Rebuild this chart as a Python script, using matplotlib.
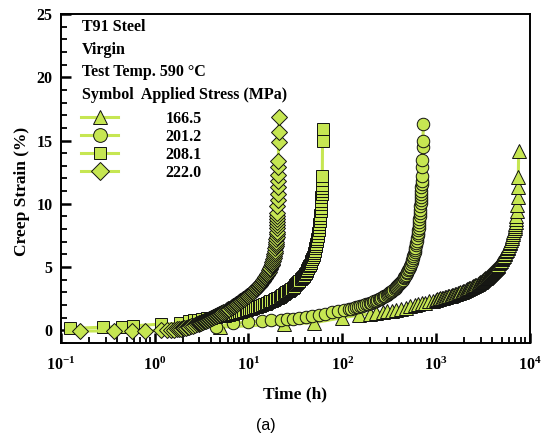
import matplotlib
matplotlib.use("Agg")
import matplotlib.pyplot as plt
from matplotlib.ticker import MultipleLocator, LogLocator, NullFormatter

plt.rcParams['font.family'] = ['Liberation Serif', 'DejaVu Serif']
plt.rcParams['font.weight'] = 'bold'
plt.rcParams['mathtext.fontset'] = 'custom'
plt.rcParams['mathtext.rm'] = 'Liberation Serif:bold'
plt.rcParams['mathtext.it'] = 'Liberation Serif:bold'

# ---- data: (time h, creep strain %) ----
creep_166 = [
    (5.0, 0.25), (24, 0.5), (50, 0.6), (100, 1.0), (150, 1.2), (200, 1.3),
    (230, 1.4), (270, 1.45), (300, 1.5), (340, 1.55), (370, 1.6), (420, 1.7),
    (480, 1.8), (530, 1.9), (590, 2.0), (650, 2.08), (710, 2.15), (770, 2.2),
    (840, 2.28), (920, 2.35), (1000, 2.42), (1035, 2.45), (1070, 2.48),
    (1110, 2.52), (1150, 2.55), (1195, 2.58), (1240, 2.62), (1285, 2.65),
    (1330, 2.68), (1380, 2.72), (1430, 2.75), (1480, 2.78), (1530, 2.82),
    (1585, 2.86), (1640, 2.9), (1700, 2.94), (1760, 2.98), (1820, 3.02),
    (1880, 3.06), (1940, 3.1), (2000, 3.14), (2065, 3.18), (2130, 3.23),
    (2195, 3.27), (2260, 3.32), (2330, 3.37), (2400, 3.42), (2475, 3.47),
    (2550, 3.52), (2625, 3.57), (2700, 3.62), (2780, 3.67), (2860, 3.73),
    (2940, 3.79), (3020, 3.85), (3100, 3.91), (3180, 3.97), (3265, 4.03),
    (3350, 4.1), (3435, 4.16), (3520, 4.23), (3610, 4.3), (3700, 4.37),
    (3790, 4.44), (3880, 4.52), (3970, 4.6), (4060, 4.68), (4155, 4.76),
    (4250, 4.85), (4345, 4.93), (4440, 5.02), (4535, 5.11), (4630, 5.2),
    (4725, 5.3), (4820, 5.4), (4915, 5.5), (5010, 5.6), (5105, 5.7),
    (5200, 5.8), (5300, 5.9), (5400, 6.0), (5500, 6.12), (5600, 6.25),
    (5700, 6.37), (5800, 6.5), (5900, 6.62), (6000, 6.75), (6100, 6.87),
    (6200, 7.0), (6300, 7.15), (6400, 7.3), (6500, 7.45), (6600, 7.6),
    (6700, 7.75), (6800, 7.9), (6880, 8.07), (6950, 8.25), (7020, 8.42),
    (7080, 8.6), (7140, 8.8), (7200, 9.0), (7300, 9.4), (7380, 9.9),
    (7450, 10.5), (7500, 11.3), (7550, 12.1), (7620, 14.2),
]

creep_201 = [
    (4.5, 0.3), (6.8, 0.55), (9.8, 0.65), (13.8, 0.75), (17.5, 0.8),
    (22, 0.85), (26, 0.88), (29.5, 0.92), (35, 1.0), (41, 1.08), (48, 1.16),
    (57, 1.25), (66, 1.33), (78, 1.42), (90, 1.5), (104, 1.58), (118, 1.66),
    (125, 1.71), (132, 1.76), (140, 1.81), (148, 1.86), (156, 1.91),
    (164, 1.96), (172, 2.0), (180, 2.05), (188, 2.1), (196, 2.15),
    (204, 2.2), (212, 2.25), (220, 2.3), (228, 2.35), (236, 2.4),
    (245, 2.45), (253, 2.5), (262, 2.56), (271, 2.62), (280, 2.68),
    (289, 2.74), (298, 2.8), (307, 2.86), (316, 2.93), (325, 3.0),
    (334, 3.06), (343, 3.13), (352, 3.2), (361, 3.27), (370, 3.35),
    (379, 3.42), (388, 3.5), (397, 3.58), (406, 3.66), (415, 3.75),
    (424, 3.83), (433, 3.92), (442, 4.0), (451, 4.1), (460, 4.2),
    (469, 4.3), (478, 4.4), (487, 4.51), (496, 4.62), (505, 4.73),
    (514, 4.85), (523, 4.97), (532, 5.1), (541, 5.24), (550, 5.38),
    (558, 5.53), (566, 5.68), (574, 5.84), (582, 6.0), (590, 6.17),
    (597, 6.35), (604, 6.53), (611, 6.72), (618, 6.9), (624, 7.1),
    (630, 7.3), (636, 7.5), (642, 7.7), (647, 7.9), (652, 8.12),
    (657, 8.35), (662, 8.57), (666, 8.8), (670, 9.05), (674, 9.3),
    (678, 9.55), (681, 9.8), (685, 10.05), (688, 10.3), (691, 10.55),
    (694, 10.8), (697, 11.05), (699, 11.3), (702, 11.6), (704, 11.8),
    (708, 12.2), (712, 12.9), (716, 13.5), (720, 14.5), (724, 15.0),
    (735, 16.3),
]

creep_208 = [
    (0.125, 0.15), (0.28, 0.25), (0.45, 0.3), (0.58, 0.35), (1.18, 0.5),
    (1.85, 0.55), (2.3, 0.75), (2.6, 0.8), (2.9, 0.85), (3.2, 0.9),
    (3.6, 0.95), (4.0, 1.0), (4.5, 1.05), (5.0, 1.1), (5.3, 1.13),
    (5.6, 1.17), (5.9, 1.2), (6.2, 1.24), (6.5, 1.28), (6.9, 1.32),
    (7.2, 1.36), (7.6, 1.4), (8.0, 1.44), (8.4, 1.48), (8.8, 1.52),
    (9.3, 1.57), (9.7, 1.61), (10.2, 1.66), (10.7, 1.71), (11.2, 1.76),
    (11.7, 1.81), (12.3, 1.86), (12.8, 1.91), (13.4, 1.96), (14.0, 2.01),
    (14.6, 2.06), (15.2, 2.11), (15.8, 2.17), (16.4, 2.22), (17.1, 2.28),
    (17.8, 2.34), (18.5, 2.4), (19.2, 2.46), (20.0, 2.52), (20.7, 2.58),
    (21.5, 2.65), (22.2, 2.71), (23.0, 2.78), (23.8, 2.85), (24.6, 2.92),
    (25.4, 3.0), (26.2, 3.07), (27.0, 3.14), (27.9, 3.22), (28.7, 3.3),
    (29.6, 3.38), (30.5, 3.46), (31.4, 3.55), (32.3, 3.64), (33.2, 3.73),
    (34.1, 3.82), (35.0, 3.92), (36.0, 4.02), (36.9, 4.12), (37.8, 4.22),
    (38.8, 4.33), (39.7, 4.44), (40.7, 4.56), (41.6, 4.68), (42.6, 4.8),
    (43.5, 4.93), (44.4, 5.06), (45.3, 5.2), (46.2, 5.34), (47.0, 5.49),
    (47.9, 5.64), (48.7, 5.8), (49.5, 5.96), (50.3, 6.13), (51.0, 6.3),
    (51.7, 6.48), (52.4, 6.66), (53.1, 6.85), (53.7, 7.05), (54.3, 7.25),
    (54.9, 7.46), (55.5, 7.68), (56.0, 7.9), (56.5, 8.13), (57.0, 8.37),
    (57.5, 8.62), (57.9, 8.87), (58.3, 9.13), (58.7, 9.4), (59.1, 9.67),
    (59.4, 9.95), (59.7, 10.22), (60.0, 10.5), (60.3, 10.75), (60.5, 11.0),
    (60.7, 11.25), (60.9, 11.5), (61.2, 11.9), (61.3, 12.2), (61.6, 15.0),
    (61.8, 15.9),
]

creep_222 = [
    (0.16, -0.05), (0.37, -0.05), (0.57, -0.05), (0.78, -0.05), (1.18, 0.0),
    (1.35, 0.02), (1.5, 0.03), (1.62, 0.05), (1.72, 0.07), (1.82, 0.1),
    (1.9, 0.12), (1.98, 0.15), (2.06, 0.18), (2.15, 0.21), (2.24, 0.25),
    (2.34, 0.29), (2.45, 0.33), (2.56, 0.37), (2.68, 0.42), (2.8, 0.47),
    (2.93, 0.52), (3.0, 0.55), (3.07, 0.58), (3.15, 0.61), (3.22, 0.64),
    (3.3, 0.67), (3.38, 0.7), (3.46, 0.73), (3.55, 0.77), (3.64, 0.8),
    (3.73, 0.84), (3.82, 0.87), (3.92, 0.91), (4.02, 0.94), (4.12, 0.98),
    (4.22, 1.02), (4.33, 1.06), (4.44, 1.1), (4.55, 1.14), (4.66, 1.18),
    (4.78, 1.22), (4.9, 1.26), (5.02, 1.3), (5.15, 1.34), (5.28, 1.39),
    (5.41, 1.43), (5.55, 1.48), (5.69, 1.52), (5.83, 1.57), (5.97, 1.61),
    (6.12, 1.66), (6.27, 1.71), (6.43, 1.76), (6.59, 1.81), (6.75, 1.86),
    (6.91, 1.91), (7.08, 1.96), (7.25, 2.01), (7.43, 2.06), (7.61, 2.11),
    (7.8, 2.17), (7.99, 2.22), (8.18, 2.28), (8.38, 2.33), (8.58, 2.39),
    (8.79, 2.44), (9.0, 2.5), (9.22, 2.56), (9.44, 2.62), (9.67, 2.68),
    (9.9, 2.74), (10.15, 2.8), (10.4, 2.87), (10.65, 2.93), (10.9, 3.0),
    (11.15, 3.06), (11.4, 3.13), (11.65, 3.19), (11.9, 3.26), (12.15, 3.33),
    (12.4, 3.4), (12.65, 3.47), (12.9, 3.54), (13.15, 3.61), (13.4, 3.68),
    (13.65, 3.75), (13.9, 3.83), (14.15, 3.9), (14.4, 3.98), (14.65, 4.06),
    (14.9, 4.14), (15.15, 4.22), (15.4, 4.3), (15.65, 4.38), (15.9, 4.47),
    (16.15, 4.56), (16.4, 4.65), (16.65, 4.75), (16.9, 4.85), (17.15, 4.95),
    (17.4, 5.05), (17.6, 5.15), (17.8, 5.25), (18.0, 5.37), (18.2, 5.5),
    (18.4, 5.62), (18.6, 5.75), (18.75, 5.87), (18.9, 6.0), (19.05, 6.15),
    (19.2, 6.3), (19.35, 6.47), (19.5, 6.65), (19.6, 6.82), (19.7, 7.0),
    (19.8, 7.2), (19.9, 7.4), (19.95, 7.6), (20.0, 7.8), (20.05, 8.05),
    (20.1, 8.3), (20.15, 8.55), (20.2, 8.8), (20.25, 9.05), (20.3, 9.3),
    (20.35, 9.8), (20.4, 10.3), (20.45, 10.8), (20.5, 11.3), (20.55, 11.8),
    (20.6, 12.3), (20.7, 12.9), (20.8, 13.4), (20.9, 14.9), (21.0, 15.7),
    (21.2, 16.85),
]

stress_labels = ['166.5', '201.2', '208.1', '222.0']
series = [creep_166, creep_201, creep_208, creep_222]
markers = ['^', 'o', 's', 'D']
marker_sizes = [9.5, 9, 8, 8]

fill = '#c6e652'
edge = '#111111'

fig = plt.figure(figsize=(5.43, 4.36), dpi=100)
ax = fig.add_axes([0.1123, 0.2133, 0.8633, 0.7546])

handles = []
for data, mk, ms, lab in zip(series, markers, marker_sizes, stress_labels):
    t = [p[0] for p in data]
    e = [p[1] for p in data]
    h, = ax.plot(t, e, color=fill, lw=2.2, marker=mk, ms=ms, mfc=fill,
                 mec=edge, mew=0.7, label=lab)
    handles.append(h)

ax.set_xscale('log')
ax.set_xlim(0.1, 1e4)
ax.set_ylim(-1, 25)
ax.yaxis.set_major_locator(MultipleLocator(5))
ax.yaxis.set_minor_locator(MultipleLocator(1))
ax.xaxis.set_major_locator(LogLocator(base=10))
ax.xaxis.set_minor_locator(LogLocator(base=10, subs=range(2, 10)))
ax.xaxis.set_minor_formatter(NullFormatter())
ax.tick_params(which='both', direction='in', top=False, right=False,
               labelsize=11.5, width=1.3)
ax.tick_params(which='major', length=7, width=1.8)
ax.tick_params(which='minor', length=4)
ax.tick_params(axis='x', pad=10)
ax.tick_params(axis='y', pad=6)
for s in ax.spines.values():
    s.set_linewidth(1.4)

ax.set_xlabel('Time (h)', fontsize=12.5, fontweight='bold', labelpad=9)
ax.set_ylabel('Creep Strain (%)', fontsize=12.5, fontweight='bold')
ax.yaxis.set_label_coords(-0.066, 0.46)

tx = 0.045
for y, s in [(0.960, 'T91 Steel'), (0.891, 'Virgin'),
             (0.824, 'Test Temp. 590 \u00b0C'),
             (0.754, 'Symbol  Applied Stress (MPa)')]:
    ax.text(tx, y, s, transform=ax.transAxes, fontsize=11.5,
            fontweight='bold', va='center', ha='left')

leg = ax.legend(handles=handles, loc='upper left', bbox_to_anchor=(0.03, 0.725),
                frameon=False, fontsize=11.5, handlelength=2.3,
                handletextpad=2.95, labelspacing=0.12, borderaxespad=0,
                markerscale=1.1)

fig.text(0.49, 0.025, '(a)', family='Liberation Sans', fontweight='normal',
         fontsize=11.5, ha='center', va='center')

fig.savefig('out.png', dpi=100)
